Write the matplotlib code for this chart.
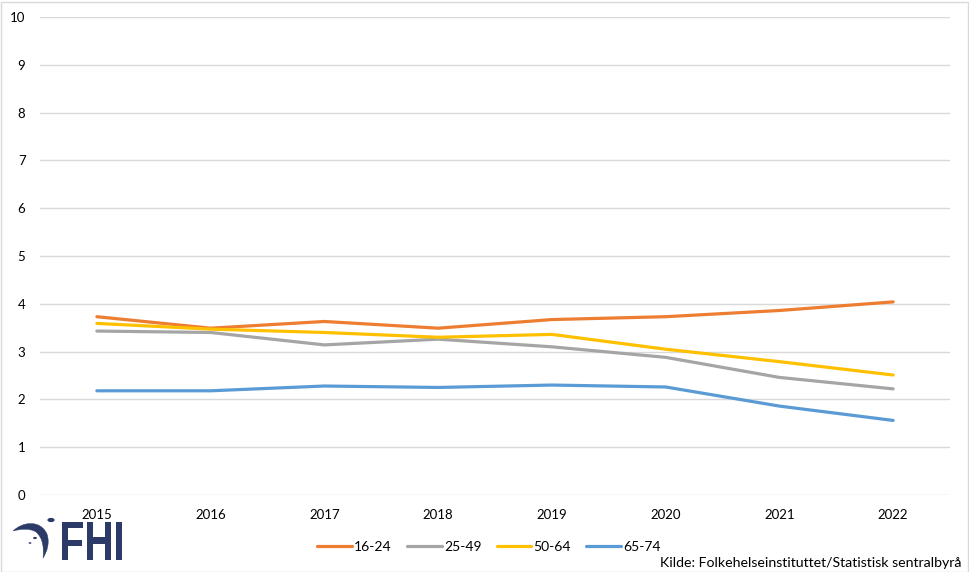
import matplotlib
matplotlib.use("Agg")
import matplotlib.pyplot as plt
from matplotlib.patches import Rectangle, Circle, PathPatch
from matplotlib.path import Path
from matplotlib.textpath import TextPath
from matplotlib.font_manager import FontProperties
from matplotlib.transforms import Affine2D

years = ["2015", "2016", "2017", "2018", "2019", "2020", "2021", "2022"]
s_16_24 = [3.73, 3.49, 3.63, 3.49, 3.67, 3.73, 3.86, 4.04]
s_25_49 = [3.43, 3.40, 3.14, 3.26, 3.10, 2.88, 2.46, 2.22]
s_50_64 = [3.59, 3.47, 3.40, 3.30, 3.36, 3.05, 2.79, 2.51]
s_65_74 = [2.18, 2.18, 2.28, 2.25, 2.30, 2.26, 1.86, 1.56]
labels = ["16-24", "25-49", "50-64", "65-74"]
colors = ["#ED7D31", "#A5A5A5", "#FFC000", "#5B9BD5"]
yticks = list(range(0, 11))
source = "Kilde: Folkehelseinstituttet/Statistisk sentralbyrå"

plt.rcParams['font.family'] = ['Lato', 'DejaVu Sans']

W, H = 970, 572
fig = plt.figure(figsize=(9.7, 5.72), dpi=100)
ax = fig.add_axes([40/W, 1-495/H, 910/W, 478/H])

x = list(range(len(years)))
for data, lab, col in zip([s_16_24, s_25_49, s_50_64, s_65_74], labels, colors):
    ax.plot(x, data, color=col, lw=2.3, label=lab, solid_capstyle='round', zorder=3)

ax.set_xlim(-0.5, len(years) - 0.5)
ax.set_ylim(0, 10)
ax.set_yticks(yticks)
ax.set_yticklabels([str(v) for v in yticks])
ax.set_xticks(x)
ax.set_xticklabels(years)
ax.grid(axis='y', color='#D9D9D9', lw=1)
ax.set_axisbelow(True)
for sp in ax.spines.values():
    sp.set_visible(False)
ax.tick_params(axis='both', length=0, labelsize=9.5, colors='#000000')
ax.tick_params(axis='y', pad=10.5)
ax.tick_params(axis='x', pad=10)

leg = fig.legend(loc='center', bbox_to_anchor=(489/W, 1-547/H), ncol=4, frameon=False,
                 fontsize=10, handlelength=2.5, handletextpad=0.15, columnspacing=1.1,
                 borderpad=0, borderaxespad=0)

fig.text(962/W, 1-563/H, source, ha='right', va='center', fontsize=10.2)

# FHI logo
navy = "#2B3A67"

def fpx(vx, vy):
    return (vx/W, 1-vy/H)

verts = [(13, 531),
         (22, 522), (40, 519), (47, 534),
         (50, 543), (47, 552), (43, 558),
         (44, 548), (43, 538), (36, 532),
         (30, 528), (20, 529), (13, 531),
         (13, 531)]
codes = [Path.MOVETO] + [Path.CURVE4]*12 + [Path.CLOSEPOLY]
fig.patches.append(PathPatch(Path([fpx(*v) for v in verts], codes), transform=fig.transFigure,
                             facecolor=navy, edgecolor=navy, lw=0.3))
for cx, cy, r in [(51, 520, 3.6), (35, 538, 1.9), (30, 543, 1.4)]:
    fig.patches.append(Circle(fpx(cx, cy), r/W, transform=fig.transFigure,
                              facecolor=navy, edgecolor='none'))

tp = TextPath((0, 0), "FHI", size=100, prop=FontProperties(family='Liberation Sans', weight='bold'))
bb = tp.get_extents()
x0, x1, y0, y1 = 62, 122, 560, 522
tr = (Affine2D().translate(-bb.x0, -bb.y0)
      .scale((x1 - x0)/bb.width/W, (y0 - y1)/bb.height/H)
      .translate(x0/W, 1 - y0/H))
fig.patches.append(PathPatch(tr.transform_path(tp), transform=fig.transFigure,
                             facecolor=navy, edgecolor='none'))

fig.patches.append(Rectangle((0.5/W, 0.5/H), 968/W, 570/H, transform=fig.transFigure,
                             fill=False, edgecolor='#D9D9D9', lw=1))

fig.savefig("out.png", dpi=100, facecolor='white')
